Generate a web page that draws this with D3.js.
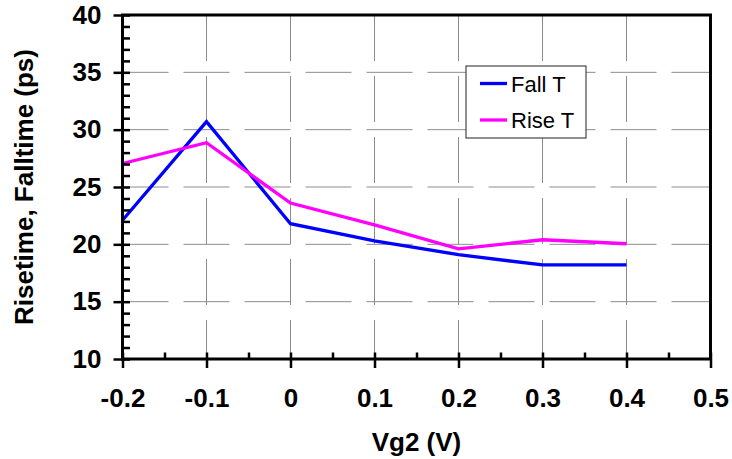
<!DOCTYPE html>
<html>
<head>
<meta charset="utf-8">
<script src="https://cdn.jsdelivr.net/npm/d3@7"></script>
<style>
  html, body { margin: 0; padding: 0; background: #fff; }
  svg { display: block; }
  text { font-family: Arial, "Liberation Sans", sans-serif; }
</style>
</head>
<body>
<svg id="chart" width="732" height="459"></svg>
<script>
// ---- data ----
const vg2 = [-0.2, -0.1, 0, 0.1, 0.2, 0.3, 0.4];
const fallT = [22.1, 30.7, 21.8, 20.3, 19.1, 18.2, 18.2];
const riseT = [27.05, 28.86, 23.6, 21.7, 19.6, 20.4, 20.05];
const seriesNames = ["Fall T", "Rise T"];
const seriesColors = ["#0000FF", "#FF00FF"];
const xTicks = [-0.2, -0.1, 0, 0.1, 0.2, 0.3, 0.4, 0.5];
const xTickLabels = ["-0.2", "-0.1", "0", "0.1", "0.2", "0.3", "0.4", "0.5"];
const yTicks = [10, 15, 20, 25, 30, 35, 40];
const xTitle = "Vg2 (V)";
const yTitle = "Risetime, Falltime (ps)";

// ---- layout ----
const svg = d3.select("#chart");
const L = 122.5, R = 710.5, T = 15, B = 359;
const x = d3.scaleLinear().domain([-0.2, 0.5]).range([L, R]);
const y = d3.scaleLinear().domain([10, 40]).range([B, T]);

// gridlines
const grid = svg.append("g").attr("stroke", "#8c8c8c").attr("stroke-width", 1)
  .attr("stroke-dasharray", "46,15").attr("fill", "none");
grid.selectAll("line.h").data(yTicks.filter(v => v > 10 && v < 40)).join("line")
  .attr("class", "h").attr("x1", L).attr("x2", R)
  .attr("y1", d => y(d)).attr("y2", d => y(d));
grid.selectAll("line.v").data(xTicks.filter(v => v > -0.2 && v < 0.5)).join("line")
  .attr("class", "v").attr("y1", T).attr("y2", B)
  .attr("x1", d => x(d)).attr("x2", d => x(d));

// series
const series = [fallT, riseT];
const line = d3.line().x((d, i) => x(vg2[i])).y(d => y(d));
series.forEach((s, k) => {
  svg.append("path").datum(s).attr("d", line)
    .attr("fill", "none").attr("stroke", seriesColors[k])
    .attr("stroke-width", 3.3).attr("stroke-linejoin", "miter");
});

// frame
svg.append("rect").attr("x", L).attr("y", T).attr("width", R - L).attr("height", B - T)
  .attr("fill", "none").attr("stroke", "#000").attr("stroke-width", 3);

// axes
const yMinor = svg.append("g").attr("transform", `translate(${L},0)`)
  .call(d3.axisRight(y).tickValues(d3.range(10, 41, 1)).tickSize(7.5).tickFormat(""));
const yMajor = svg.append("g").attr("transform", `translate(${L},0)`)
  .call(d3.axisLeft(y).tickValues(yTicks).tickSize(9).tickPadding(12));
const xMinor = svg.append("g").attr("transform", `translate(0,${B})`)
  .call(d3.axisTop(x).tickValues(d3.range(0, 15).map(i => -0.2 + i * 0.05)).tickSize(6.5).tickFormat(""));
const xMajor = svg.append("g").attr("transform", `translate(0,${B})`)
  .call(d3.axisBottom(x).tickValues(xTicks).tickSize(9).tickPadding(20.5)
    .tickFormat((d, i) => xTickLabels[i]));

[yMinor, yMajor, xMinor, xMajor].forEach(g => {
  g.select(".domain").remove();
  g.selectAll(".tick line").attr("stroke", "#000").attr("stroke-width", 2.5);
  g.selectAll(".tick text").attr("fill", "#000")
    .style("font-size", "26px").style("font-weight", "bold")
    .style("font-family", "Arial, 'Liberation Sans', sans-serif");
});

// titles
svg.append("text").attr("x", (L + R) / 2).attr("y", 451)
  .attr("text-anchor", "middle").style("font-size", "26px").style("font-weight", "bold")
  .text(xTitle);
svg.append("text").attr("transform", `translate(33,${(T + B) / 2}) rotate(-90)`)
  .attr("text-anchor", "middle").style("font-size", "26px").style("font-weight", "bold")
  .text(yTitle);

// legend
const lg = svg.append("g");
lg.append("rect").attr("x", 466).attr("y", 66).attr("width", 120).attr("height", 72)
  .attr("fill", "#fff").attr("stroke", "#222").attr("stroke-width", 1);
const legY = [83.5, 120];
seriesNames.forEach((n, k) => {
  lg.append("line").attr("x1", 480).attr("x2", 507).attr("y1", legY[k]).attr("y2", legY[k])
    .attr("stroke", seriesColors[k]).attr("stroke-width", 3.3);
  lg.append("text").attr("x", 511).attr("y", legY[k] + 8).style("font-size", "22px")
    .attr("fill", "#000").text(n);
});
</script>
</body>
</html>
